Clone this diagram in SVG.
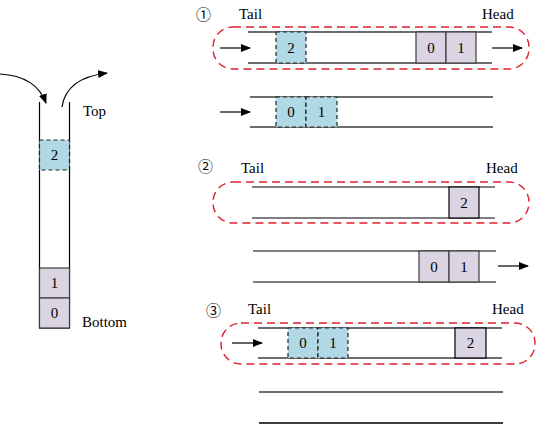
<svg xmlns="http://www.w3.org/2000/svg" width="538" height="424" viewBox="0 0 538 424">
<style>
text{font-family:"Liberation Serif","DejaVu Serif","Times New Roman",serif;font-size:15px;fill:#000}
.d{font-size:15px;text-anchor:middle}
.n{font-family:"Noto Sans CJK SC","Noto Sans CJK JP",sans-serif;font-size:15px}
.ln{stroke:#3c3c3c;stroke-width:1.3;fill:none}
.lk{stroke:#000;stroke-width:1.2;fill:none}
.p{fill:#dbd5e3;stroke:#3c3c3c;stroke-width:1.2}
.b{fill:#b0d9e5;stroke:#222;stroke-width:1.2;stroke-dasharray:4 3}
.r{fill:none;stroke:#e0202c;stroke-width:1.4;stroke-dasharray:8 5}
.a{stroke:#000;stroke-width:1.2;fill:none;marker-end:url(#ah)}
</style>
<defs>
<marker id="ah" viewBox="0 0 10 8" refX="9" refY="4" markerWidth="10" markerHeight="8" markerUnits="userSpaceOnUse" orient="auto">
<path d="M0,0 L10,4 L0,8 Z" fill="#000"/>
</marker>
</defs>
<rect width="538" height="424" fill="#fff"/>

<g id="stack">
<line class="lk" x1="39.5" y1="102" x2="39.5" y2="328"/>
<line class="lk" x1="69.5" y1="102" x2="69.5" y2="328"/>
<line class="lk" x1="39" y1="328" x2="70" y2="328"/>
<rect class="b" x="39.5" y="140" width="30" height="30"/>
<text class="d" x="54.5" y="160">2</text>
<rect class="p" x="39.5" y="268" width="30" height="30"/>
<text class="d" x="54.5" y="288">1</text>
<rect class="p" x="39.5" y="298" width="30" height="30"/>
<text class="d" x="54.5" y="318">0</text>
<text x="83" y="116">Top</text>
<text x="82" y="327">Bottom</text>
</g>

<g id="panel1">
<text class="n" x="196" y="20">①</text>
<text x="239" y="19">Tail</text>
<text x="482" y="19">Head</text>
<rect class="r" x="213" y="27" width="316" height="42" rx="20" ry="20"/>
<line class="ln" x1="248" y1="32" x2="492" y2="32"/>
<line class="ln" x1="248" y1="63" x2="492" y2="63"/>
<rect class="b" x="276" y="32" width="30" height="31"/>
<text class="d" x="291" y="53">2</text>
<rect class="p" x="416" y="32" width="30" height="31"/>
<text class="d" x="431" y="53">0</text>
<rect class="p" x="446" y="32" width="30" height="31"/>
<text class="d" x="461" y="53">1</text>
<line class="ln" x1="250" y1="97" x2="493" y2="97"/>
<line class="ln" x1="250" y1="127" x2="493" y2="127"/>
<rect class="b" x="276" y="97" width="30" height="30"/>
<text class="d" x="291" y="117">0</text>
<rect class="b" x="306" y="97" width="31" height="30"/>
<text class="d" x="321.5" y="117">1</text>
</g>

<g id="panel2">
<text class="n" x="198" y="172">②</text>
<text x="241" y="173">Tail</text>
<text x="486" y="173">Head</text>
<rect class="r" x="213" y="182" width="316" height="41" rx="20" ry="20"/>
<line class="lk" x1="252" y1="187" x2="495" y2="187"/>
<line class="lk" x1="252" y1="218" x2="495" y2="218"/>
<rect class="p" x="449" y="187" width="30" height="31" style="stroke:#000"/>
<text class="d" x="464" y="208">2</text>
<line class="lk" x1="253" y1="251" x2="496" y2="251"/>
<line class="lk" x1="253" y1="282" x2="496" y2="282"/>
<rect class="p" x="419" y="251" width="30" height="31"/>
<text class="d" x="434" y="272">0</text>
<rect class="p" x="449" y="251" width="30" height="31"/>
<text class="d" x="464" y="272">1</text>
</g>

<g id="panel3">
<text class="n" x="206" y="316">③</text>
<text x="248" y="314">Tail</text>
<text x="492" y="314">Head</text>
<rect class="r" x="221" y="323" width="314" height="41" rx="20" ry="20"/>
<line class="ln" x1="258" y1="328" x2="502" y2="328"/>
<line class="ln" x1="258" y1="358" x2="502" y2="358"/>
<rect class="b" x="288" y="328" width="30" height="30"/>
<text class="d" x="303" y="348">0</text>
<rect class="b" x="318" y="328" width="30" height="30"/>
<text class="d" x="333" y="348">1</text>
<rect class="p" x="455" y="328" width="31" height="30" style="stroke:#000"/>
<text class="d" x="470.5" y="348">2</text>
<line class="ln" x1="259" y1="392" x2="503" y2="392"/>
<line class="ln" x1="259" y1="423" x2="503" y2="423" style="stroke-width:2"/>
</g>

<g id="connectors">
<path class="a" d="M0,74 Q36,76 46,103"/>
<path class="a" d="M62,107 Q66,78 107,73"/>
<line class="a" x1="220" y1="48" x2="250" y2="48"/>
<line class="a" x1="492" y1="48" x2="522" y2="48"/>
<line class="a" x1="220" y1="112" x2="250" y2="112"/>
<line class="a" x1="498" y1="266" x2="528" y2="266"/>
<line class="a" x1="232" y1="343" x2="262" y2="343"/>
</g>
</svg>
